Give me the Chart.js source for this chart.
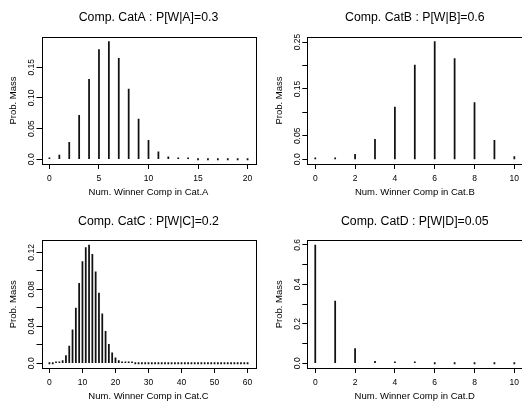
<!DOCTYPE html>
<html>
<head>
<meta charset="utf-8">
<script src="https://cdn.jsdelivr.net/npm/chart.js@4.4.0/dist/chart.umd.min.js"></script>
<style>
html, body { margin: 0; padding: 0; background: #fff; width: 522px; height: 403px; overflow: hidden; position: relative; }
canvas { position: absolute; }
</style>
</head>
<body>
<canvas id="panel-a" width="261" height="201" style="left:0px;top:0px"></canvas>
<canvas id="panel-b" width="266" height="201" style="left:261px;top:0px"></canvas>
<canvas id="panel-c" width="261" height="200" style="left:0px;top:203px"></canvas>
<canvas id="panel-d" width="266" height="200" style="left:261px;top:203px"></canvas>
<script>
// probability mass per number of winners
const countsA = [0,1,2,3,4,5,6,7,8,9,10,11,12,13,14,15,16,17,18,19,20]
const massA = [0.0008,0.0068,0.0278,0.0716,0.1304,0.1789,0.1916,0.1643,0.1144,0.0654,
               0.0308,0.0120,0.0039,0.0010,0.0002,0,0,0,0,0,0]

const countsB = [0,1,2,3,4,5,6,7,8,9,10]
const massB = [0.0001,0.0016,0.0106,0.0425,0.1115,0.2007,0.2508,0.2150,0.1209,0.0403,0.0060]

const countsC = [0,1,2,3,4,5,6,7,8,9,10,11,12,13,14,15,16,17,18,19,20,
                 21,22,23,24,25,26,27,28,29,30,31,32,33,34,35,36,37,38,39,40,
                 41,42,43,44,45,46,47,48,49,50,51,52,53,54,55,56,57,58,59,60]
const massC = [0,0,0.0002,0.0008,0.0029,0.0082,0.0187,0.0361,0.0598,0.0864,0.1101,
               0.1252,0.1278,0.1179,0.0990,0.0759,0.0534,0.0345,0.0206,0.0114,0.0058,
               0.0028,0.0012,0.0005,0.0002,0.0001,0,0,0,0,0,0,0,0,0,0,0,0,0,0,0,
               0,0,0,0,0,0,0,0,0,0,0,0,0,0,0,0,0,0,0,0]

const countsD = [0,1,2,3,4,5,6,7,8,9,10]
const massD = [0.5987,0.3151,0.0746,0.0105,0.0010,0.0001,0,0,0,0,0]

// axis ticks and their labels (R drops the labels that would overlap)
const xTicksA = [0,5,10,15,20]
const xLabelsA = ['0','5','10','15','20']
const yTicksA = [0,0.05,0.10,0.15]
const yLabelsA = ['0.0','0.05','0.10','0.15']

const xTicksB = [0,2,4,6,8,10]
const xLabelsB = ['0','2','4','6','8','10']
const yTicksB = [0,0.05,0.10,0.15,0.20,0.25]
const yLabelsB = ['0.0','0.05','','0.15','','0.25']

const xTicksC = [0,10,20,30,40,50,60]
const xLabelsC = ['0','10','20','30','40','50','60']
const yTicksC = [0,0.02,0.04,0.06,0.08,0.10,0.12]
const yLabelsC = ['0.0','','0.04','','0.08','','0.12']

const xTicksD = [0,2,4,6,8,10]
const xLabelsD = ['0','2','4','6','8','10']
const yTicksD = [0,0.1,0.2,0.3,0.4,0.5,0.6]
const yLabelsD = ['0.0','','0.2','','0.4','','0.6']

const FONT = "'Liberation Sans', Arial, Helvetica, sans-serif"

// full frame round the plot region, like R's box()
const boxPlugin = {
    id: 'box',
    afterDraw(chart) {
        const a = chart.chartArea
        const ctx = chart.ctx
        ctx.save()
        ctx.strokeStyle = '#000'
        ctx.lineWidth = 1
        ctx.strokeRect(Math.round(a.left) + 0.5, Math.round(a.top) + 0.5,
                       Math.round(a.right - a.left), Math.round(a.bottom - a.top))
        ctx.restore()
    }
}

function drawPanel(id, p) {
    new Chart(document.getElementById(id), {
        type: 'bar',
        data: {
            datasets: [{
                data: p.x.map((v, i) => ({x: v, y: p.y[i]})),
                backgroundColor: '#111',
                borderWidth: 0,
                barThickness: 1.1,
                minBarLength: 1.5
            }]
        },
        options: {
            responsive: false,
            animation: false,
            events: [],
            layout: { padding: { left: 0, right: p.padRight, top: 0, bottom: 0 } },
            plugins: {
                legend: { display: false },
                tooltip: { enabled: false },
                title: {
                    display: true,
                    text: p.title,
                    fullSize: false,
                    color: '#000',
                    font: { family: FONT, size: 12.3, weight: 'normal', lineHeight: 1.2 },
                    padding: { top: p.titleTop, bottom: p.titleBottom }
                }
            },
            scales: {
                x: {
                    type: 'linear',
                    min: p.xMin,
                    max: p.xMax,
                    offset: false,
                    afterBuildTicks: s => { s.ticks = p.xTicks.map(v => ({value: v})) },
                    afterFit: s => { s.height = p.xAxisH },
                    ticks: {
                        autoSkip: false,
                        maxRotation: 0,
                        color: '#000',
                        padding: 5,
                        font: { family: FONT, size: 8.5 },
                        callback: (v, i) => p.xLabels[i]
                    },
                    grid: { display: true, drawOnChartArea: false, tickLength: 5, color: '#000', offset: false },
                    border: { display: false },
                    title: {
                        display: true,
                        text: p.xTitle,
                        color: '#000',
                        font: { family: FONT, size: 9.5, lineHeight: 1.2 },
                        padding: { top: 0, bottom: p.xTitleBottom }
                    }
                },
                y: {
                    type: 'linear',
                    min: p.yMin,
                    max: p.yMax,
                    afterBuildTicks: s => { s.ticks = p.yTicks.map(v => ({value: v})) },
                    afterFit: s => { s.width = p.yAxisW },
                    ticks: {
                        autoSkip: false,
                        minRotation: 90,
                        maxRotation: 90,
                        crossAlign: 'center',
                        padding: p.yTickPad,
                        color: '#000',
                        font: { family: FONT, size: 8.5 },
                        callback: (v, i) => p.yLabels[i]
                    },
                    grid: { display: true, drawOnChartArea: false, tickLength: 5, color: '#000' },
                    border: { display: false },
                    title: {
                        display: true,
                        text: 'Prob. Mass',
                        color: '#000',
                        font: { family: FONT, size: 9.5, lineHeight: 1.2 },
                        padding: { top: p.yAxisW - 34, bottom: 0 }
                    }
                }
            }
        },
        plugins: [boxPlugin]
    })
}

drawPanel('panel-a', {
    x: countsA, y: massA, title: 'Comp. CatA : P[W|A]=0.3', xTitle: 'Num. Winner Comp in Cat.A',
    xTicks: xTicksA, xLabels: xLabelsA, yTicks: yTicksA, yLabels: yLabelsA,
    xMin: -0.8, xMax: 20.8, yMin: -0.00767, yMax: 0.19931,
    padRight: 5.5, yAxisW: 41.5, xAxisH: 37, titleTop: 10.6, titleBottom: 11.6, xTitleBottom: 3.3, yTickPad: -3.3
})
drawPanel('panel-b', {
    x: countsB, y: massB, title: 'Comp. CatB : P[W|B]=0.6', xTitle: 'Num. Winner Comp in Cat.B',
    xTicks: xTicksB, xLabels: xLabelsB, yTicks: yTicksB, yLabels: yLabelsB,
    xMin: -0.4, xMax: 10.4, yMin: -0.01003, yMax: 0.26085,
    padRight: 4.7, yAxisW: 46.3, xAxisH: 37, titleTop: 10.6, titleBottom: 11.6, xTitleBottom: 3.3, yTickPad: -3.3
})
drawPanel('panel-c', {
    x: countsC, y: massC, title: 'Comp. CatC : P[W|C]=0.2', xTitle: 'Num. Winner Comp in Cat.C',
    xTicks: xTicksC, xLabels: xLabelsC, yTicks: yTicksC, yLabels: yLabelsC,
    xMin: -2.4, xMax: 62.4, yMin: -0.00511, yMax: 0.13289,
    padRight: 5.5, yAxisW: 41.5, xAxisH: 35, titleTop: 11.1, titleBottom: 11.6, xTitleBottom: 1.3, yTickPad: -3.3
})
drawPanel('panel-d', {
    x: countsD, y: massD, title: 'Comp. CatD : P[W|D]=0.05', xTitle: 'Num. Winner Comp in Cat.D',
    xTicks: xTicksD, xLabels: xLabelsD, yTicks: yTicksD, yLabels: yLabelsD,
    xMin: -0.4, xMax: 10.4, yMin: -0.02395, yMax: 0.62268,
    padRight: 4.7, yAxisW: 46.3, xAxisH: 35, titleTop: 11.1, titleBottom: 11.6, xTitleBottom: 1.3, yTickPad: -0.9
})
</script>
</body>
</html>
